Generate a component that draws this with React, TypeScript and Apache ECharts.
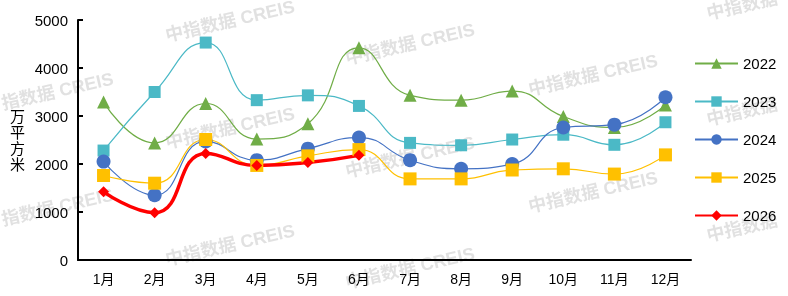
import React, { useEffect, useRef } from "react";
import * as echarts from "echarts";

const months = ["1月", "2月", "3月", "4月", "5月", "6月", "7月", "8月", "9月", "10月", "11月", "12月"];
const data2022 = [3290, 2440, 3260, 2520, 2840, 4420, 3430, 3330, 3520, 2990, 2760, 3230];
const data2023 = [2280, 3500, 4530, 3330, 3430, 3210, 2440, 2390, 2510, 2610, 2400, 2870];
const data2024 = [2050, 1350, 2470, 2080, 2320, 2550, 2080, 1900, 2000, 2760, 2820, 3390];
const data2025 = [1760, 1600, 2510, 1970, 2170, 2300, 1690, 1690, 1875, 1900, 1790, 2190];
const data2026 = [1420, 985, 2220, 1970, 2030, 2180];

const FONT = 'Arial, "Liberation Sans", "Noto Sans CJK SC", sans-serif';

// watermark anchors: x, y, text, horizontal alignment
const marks: [number, number, string, string][] = [
  [2, 104, "指数据 CREIS", "left"],
  [2, 220, "指数据 CREIS", "left"],
  [230, 21, "中指数据 CREIS", "center"],
  [230, 128, "中指数据 CREIS", "center"],
  [230, 245, "中指数据 CREIS", "center"],
  [410, 44, "中指数据 CREIS", "center"],
  [410, 157, "中指数据 CREIS", "center"],
  [410, 268, "中指数据 CREIS", "center"],
  [593, 75, "中指数据 CREIS", "center"],
  [593, 192, "中指数据 CREIS", "center"],
  [707, 14, "中指数据", "left"],
  [707, 120, "中指数据", "left"],
  [707, 236, "中指数据", "left"],
];

export default function App() {
  const ref = useRef<HTMLDivElement>(null);
  useEffect(() => {
    if (!ref.current) return;
    const chart = echarts.init(ref.current, undefined, { renderer: "svg" });
    const line = (name: string, data: number[], color: string, symbol: string, size: number, width = 1.2) => ({
      name,
      type: "line",
      data,
      smooth: 0.5,
      symbol,
      symbolSize: size,
      lineStyle: { color, width },
      itemStyle: { color },
      emphasis: { disabled: true },
    });
    chart.setOption({
      animation: false,
      textStyle: { fontFamily: FONT },
      grid: { left: 78, right: 97, top: 20, bottom: 36 },
      legend: {
        orient: "vertical",
        left: 689,
        top: 51,
        itemWidth: 43,
        itemHeight: 13,
        itemGap: 23,
        textStyle: { color: "#000", fontSize: 15, fontFamily: FONT },
        data: ["2022", "2023", "2024", "2025", "2026"],
      },
      xAxis: {
        type: "category",
        data: months,
        boundaryGap: true,
        axisLine: { lineStyle: { color: "#000", width: 2 } },
        axisTick: { inside: true, length: 5, lineStyle: { color: "#000", width: 2 } },
        axisLabel: { color: "#000", fontSize: 14, margin: 12 },
      },
      yAxis: {
        type: "value",
        min: 0,
        max: 5000,
        interval: 1000,
        splitLine: { show: false },
        axisLine: { show: true, lineStyle: { color: "#000", width: 2 } },
        axisTick: { show: true, inside: true, length: 5, lineStyle: { color: "#000", width: 2 } },
        axisLabel: { color: "#000", fontSize: 15, margin: 10, formatter: (v: number) => String(v) },
      },
      graphic: [
        {
          type: "text",
          left: 10,
          top: 108,
          style: { text: "万\n平\n方\n米", font: `15px ${FONT}`, lineHeight: 16, fill: "#000" },
        },
        ...marks.map(([x, y, text, align]) => ({
          type: "text",
          x,
          y,
          rotation: (13 * Math.PI) / 180,
          z: -10,
          silent: true,
          style: {
            text,
            font: `bold 18px ${FONT}`,
            fill: "rgba(170,170,170,0.35)",
            align,
            verticalAlign: "middle",
          },
        })),
      ],
      series: [
        line("2022", data2022, "#70AD47", "triangle", 13),
        line("2023", data2023, "#4BB9C6", "rect", 12),
        line("2024", data2024, "#4472C4", "circle", 14),
        line("2025", data2025, "#FFC000", "rect", 13),
        line("2026", data2026, "#FF0000", "diamond", 11, 3.5),
      ],
    });
    return () => chart.dispose();
  }, []);
  return <div ref={ref} style={{ position: "fixed", left: 0, top: 0, width: 788, height: 296 }} />;
}
